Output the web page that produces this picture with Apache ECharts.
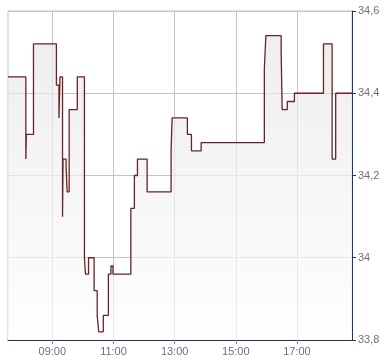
<!DOCTYPE html>
<html><head><meta charset="utf-8">
<script src="https://cdn.jsdelivr.net/npm/echarts@6/dist/echarts.min.js"></script>
<style>html,body{margin:0;padding:0;background:#fff}#c{width:390px;height:364px}</style>
</head><body><div id="c"></div>
<script>
// Trade times and prices (step chart, value holds until next time)
var times = ["07:33","08:08","08:09","08:23","09:08","09:13","09:15","09:20","09:21","09:27","09:29","09:33","09:49",
  "10:03","10:05","10:11","10:22","10:28","10:31","10:40","10:50","10:55","10:59","11:34","11:41","11:47","12:06",
  "12:53","12:55","13:25","13:33","13:52","15:56","15:59","16:29","16:31","16:41","16:55","17:52","18:09","18:16","18:48"];
var prices = [34.44,34.24,34.30,34.52,34.42,34.34,34.44,34.10,34.24,34.22,34.16,34.36,34.44,
  34.00,33.96,34.00,33.92,33.86,33.82,33.86,33.96,33.98,33.96,34.12,34.20,34.24,34.16,
  34.26,34.34,34.30,34.26,34.28,34.46,34.54,34.50,34.36,34.38,34.40,34.52,34.24,34.40,34.40];
var xTickLabels = ["09:00","11:00","13:00","15:00","17:00"];
var yTicks = [33.8, 34.0, 34.2, 34.4, 34.6];
var xStart = "07:33", xEnd = "18:48";

function toMin(s){ var p = s.split(":"); return (+p[0]) * 60 + (+p[1]); }
var data = times.map(function(t, i){ return [toMin(t), prices[i]]; });
var xTickVals = xTickLabels.map(toMin);

var navy = '#1d3866';
var grid = '#c4c4c4';
var chart = echarts.init(document.getElementById('c'), null, {renderer:'canvas'});
chart.setOption({
  animation: false,
  grid: {left: 8, right: 38, top: 11, bottom: 24, containLabel: false,
         show: true, borderColor: grid, borderWidth: 1, backgroundColor: 'transparent'},
  xAxis: {
    type: 'value', min: toMin(xStart), max: toMin(xEnd),
    axisLine: {show: true, lineStyle: {color: navy, width: 1}},
    axisTick: {show: true, length: 4, customValues: xTickVals, lineStyle: {color: '#888'}},
    axisLabel: {
      customValues: xTickVals, color: '#707070', fontSize: 11,
      fontFamily: 'Liberation Sans, Arial, sans-serif', margin: 6,
      formatter: function(v){ var h = Math.floor(v/60), mm = v % 60;
        return (h < 10 ? '0' : '') + h + ':' + (mm < 10 ? '0' : '') + mm; }
    },
    splitLine: {show: true, lineStyle: {color: grid, width: 1}}
  },
  yAxis: {
    type: 'value', position: 'right', min: yTicks[0], max: yTicks[yTicks.length-1], interval: 0.2,
    axisLine: {show: true, lineStyle: {color: navy, width: 1}},
    axisTick: {show: true, length: 4, lineStyle: {color: navy}},
    axisLabel: {
      color: '#707070', fontSize: 11, fontFamily: 'Liberation Sans, Arial, sans-serif', margin: 6,
      formatter: function(v){ return String(Number(v.toFixed(1))).replace('.', ','); }
    },
    splitLine: {show: true, lineStyle: {color: grid, width: 1}}
  },
  series: [{
    type: 'line', step: 'end', data: data, showSymbol: false,
    lineStyle: {color: '#6a2228', width: 1.3},
    areaStyle: {color: new echarts.graphic.LinearGradient(0, 0, 0, 1, [
      {offset: 0, color: '#e6e6e6'}, {offset: 1, color: '#fdfdfd'}])}
  }]
});
</script></body></html>
